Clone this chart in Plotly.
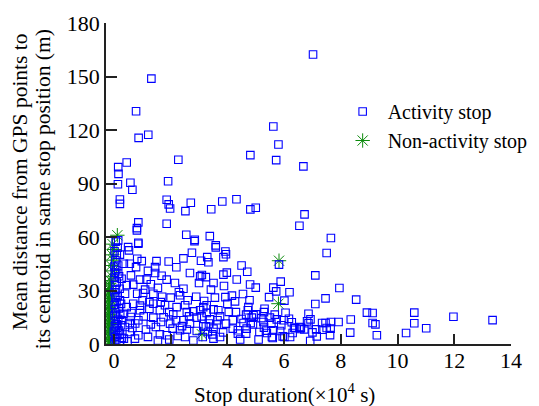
import plotly.graph_objects as go

# Activity stop points (x: duration in 1e4 s, y: mean distance in m)
act_pts = [
    (7.02,162.3),(1.32,148.8),(0.78,130.5),(0.87,115.6),(1.21,117.3),(0.45,101.8),(0.15,99.2),(0.16,95.4),
    (0.14,89.6),(0.58,90.4),(0.65,86.5),(2.27,103.3),(1.91,91.3),(0.21,81),(0.21,78.6),(1.86,80.9),(1.93,78.3),
    (1.98,76),(2.71,79.2),(2.52,74.5),(3.43,75.6),(3.82,79.9),(4.32,81.2),(4.81,75.5),(5.0,76.4),(5.62,122),
    (5.8,111.9),(4.81,105.9),(5.72,103.1),(6.68,99.6),
    (6.72,72.7),(6.54,66.3),(0.86,68.2),(0.81,65),(0.81,63.7),(1.86,67.4),(2.55,61.3),(2.85,58.5),(3.38,60.5),
    (3.59,55.3),(0.86,56.8),(0.15,58.1),(7.65,59.4),(7.5,51),(5.82,44.5),(7.1,38.5),(5.88,35),(5.62,31.6),
    (5.72,29.5),(6.19,29),(5.47,26.3),(7.95,31.4),(7.46,25.6),(8.54,24.9),(7.1,22.4),(6.01,24.3),(5.31,19.8),
    (5.29,17.9),(5.67,16.5),(6.86,17),(8.92,17.6),(9.12,17.4),(10.59,17.6),(11.97,15.3),(13.35,13.4),(5.5,14.8),
    (6.17,14.2),(5.98,13.3),(6.93,13.8),(6.86,11.6),(7.46,11.8),(7.65,12.3),(7.92,12.3),(8.35,13.7),(9.12,11.8),
    (9.22,11),(10.59,11.6),(11.01,8.8),(6.39,8.8),(7.13,8.2),(6.71,8.2),(7.5,9),(7.62,5),(8.33,6.4),(9.27,4.9),
    (10.3,6.2),(6.92,1.7),(7.15,4.3),(6.21,3.9),(6.01,3.9),(5.6,3.4),(5.39,6.2),(5.62,7.7),(5.29,9.2),(5.86,7.3),
    (6.54,9.5),(7.34,11.8),(7.35,8),(7.64,8.6),(6.59,9.2),
    (3.59,54.2),(3.29,48.7),(3.33,45.8),(3.07,46.7),(3.95,50.3),(3.86,48.7),(3.86,38.9),(3.98,40),(3.24,37.5),
    (3.51,34.2),(3.42,30.5),(3.1,38.7),(3.88,32.5),(3.93,26.3),(4.16,27.1),(4.27,23.9),(4.8,33.4),(5.0,31.6),
    (4.78,24.5),(4.74,20.7),(4.3,17.9),(4.92,16.1),(4.86,14.8),(5.01,16.6),(4.57,11.8),(4.82,11.8),(4.19,13.3),
    (4.19,8.6),(4.37,7.7),(5.27,12.3),(5.55,11.4),(5.74,13.8),(6.27,12.2),(6.81,12.7),(4.68,8.6),(4.9,11),
    (5.13,6.7),(5.36,7.5),(5.57,3.9),(5.95,4.3),(6.35,9.2),(6.57,8.4),(4.66,5.8),(4.37,5.8),(3.47,5.4),(3.51,3),
    (3.74,3.9),(3.51,8.6),(3.24,9.9),(3.31,6.7),(3.62,10.9),(3.65,13.3),(3.95,11.4),(3.39,13.8),(3.27,17.4),
    (3.15,20.7),(3.27,21.7),(3.51,19.4),(3.68,18.9),(3.74,15.5),(4.66,16.5),(3.18,24.1),(3.93,51.9),(4.33,36.2),
    (3.56,26),(4.72,18.9),
    (0.06,57.4),(0.13,54),(0.5,54.3),(0.53,52.5),(0.86,56.2),(0.21,50.1),(0.82,47.8),(0.35,45),(0.56,45),
    (0.78,43.1),(0.98,46.5),(1.93,46.3),(1.45,43.1),(1.45,39.8),(1.68,38.3),(1.86,36.1),(2.15,34.2),(2.68,39.8),
    (2.75,51.2),(2.84,57.7),(3.04,37.9),(3.0,34.2),(0.15,39.4),(0.27,36.6),(0.68,33.3),(0.92,36.1),(1.15,36.1),
    (1.03,28.6),(1.39,28.2),(1.65,23.5),(2.29,29),(2.33,27.3),(1.95,17.9),(2.51,21.7),(2.57,17.9),(2.8,18.3),
    (3.04,18.9),(0.92,21.5),(0.68,22.6),(1.25,19.8),(0.62,17.4),(0.86,13.3),(0.56,11.8),(1.13,8.1),(0.74,3),
    (1.39,14.8),(1.66,12.3),(1.98,11.4),(2.19,13.3),(2.45,13.3),(2.68,11.4),(2.57,8.1),(2.33,7.7),(2.07,8.6),
    (1.86,4.9),(1.62,5.4),(1.48,9.5),(2.51,3.9),(2.92,7.3),(3.13,3.9),(3.15,9.9),(2.92,14.8),(3.09,15.5),
    (2.09,16.6),(2.21,20.7),(1.8,21.7),(1.62,18.9),(1.39,22.6),(1.25,23.5),(1.01,24.5),(0.82,28.2),(0.39,28.2),
    (0.21,24.5),(0.45,20.7),(0.33,17),(0.27,13.3),(0.39,9.5),(0.21,5.8),(0.35,3),(0.56,6.7),(0.86,4.9),
    (0.59,15.1),(0.92,18.9),
    (0.02,1.5),(0.08,2.5),(0.2,1),(0.04,4),(0.12,5),(0.28,3.5),(0.0,7),(0.06,8),(0.18,7.5),(0.03,10),
    (0.1,11),(0.25,10.5),(0.06,13),(0.15,14),(0.02,16),(0.08,17),(0.22,16.5),(0.04,19.5),(0.17,20),(0.03,22),
    (0.09,23.5),(0.25,22.5),(0.05,26),(0.13,27),(0.02,29),(0.07,30.5),(0.2,31),(0.04,33),(0.1,34.5),(0.03,37),
    (0.18,38),(0.03,40),(0.08,41.5),(0.02,43.5),(0.15,44),(0.05,47),(0.1,50),(0.02,52),
    (0.48,1.5),(0.65,9),(0.75,11.5),(1.05,15.5),(1.2,4),(1.3,11),(1.55,2),(1.75,15),(1.95,2.5),(2.25,4.5),
    (2.4,10),(2.65,15.5),(2.8,2),(3.35,11.5),(3.85,6.5),(4.05,18),(4.5,14),(4.45,2.5),(5.1,2.5),(5.2,14.5),
    (5.9,10.5),(6.05,17.5),(6.3,6.2),(7.0,6.5),(1.1,30.5),(1.55,31.5),(2.0,26),(2.45,31),(2.9,26.5),(1.3,33.5),
    (0.45,33),(0.6,38.5),(1.7,26.5),(2.6,24.5),(4.0,22.5),(4.55,28),(1.5,46.5),(2.2,43),(2.45,48),(1.2,41),
    (4.5,44),(4.7,40.5),
]
act_x = [p[0] for p in act_pts]
act_y = [p[1] for p in act_pts]

# Non-activity stop points
non_pts = [
    (-0.19,0.5),(-0.16,1.5),(-0.2,2.5),(-0.15,3.5),(-0.19,4.5),(-0.16,5.5),(-0.2,6.5),(-0.15,7.5),
    (-0.19,8.5),(-0.16,9.5),(-0.2,10.5),(-0.15,11.5),(-0.19,12.5),(-0.16,13.5),(-0.2,14.5),(-0.15,15.5),
    (-0.19,16.5),(-0.16,17.5),(-0.2,18.5),(-0.15,19.5),(-0.19,20.5),(-0.16,21.5),(-0.2,22.5),(-0.15,23.5),
    (-0.19,24.5),(-0.16,25.5),(-0.2,26.5),(-0.15,27.5),(-0.19,28.5),(-0.16,29.5),(-0.18,31),(-0.14,32.5),
    (-0.17,34),(-0.12,35.5),
    (-0.08,38),(-0.03,41),(-0.1,44),(-0.02,47),(-0.07,50),(0.0,53),(-0.05,56),(0.12,61),
    (5.82,46.7),(5.8,22.6),(3.1,5.5),
]
non_x = [p[0] for p in non_pts]
non_y = [p[1] for p in non_pts]

x_ticks = [0, 2, 4, 6, 8, 10, 12, 14]
y_ticks = [0, 30, 60, 90, 120, 150, 180]
x_title = "Stop duration(×10<sup>4</sup> s)"
y_title_lines = ["Mean distance from GPS points to", "its centroid in same stop position (m)"]

FONT = "Liberation Serif, Times New Roman, serif"
GREEN = "#0b8a0b"
BLUE = "#0000ff"

fig = go.Figure()
fig.add_trace(go.Scatter(
    x=non_x, y=non_y, mode="markers", name="Non-activity stop",
    marker=dict(symbol="asterisk-open", size=12, color=GREEN,
                line=dict(color=GREEN, width=1)),
    showlegend=False,
))
fig.add_trace(go.Scatter(
    x=act_x, y=act_y, mode="markers", name="Activity stop",
    marker=dict(symbol="square-open", size=7.5, color=BLUE,
                line=dict(color=BLUE, width=1.1)),
))
fig.add_trace(go.Scatter(
    x=[None], y=[None], mode="markers", name="Non-activity stop",
    marker=dict(symbol="asterisk-open", size=12, color=GREEN,
                line=dict(color=GREEN, width=1)),
))

# The page body has an 8px default margin, so the figure is 8px smaller each way
fig.update_layout(
    width=531, height=398,
    margin=dict(l=98, r=28, t=15, b=62, autoexpand=False),
    paper_bgcolor="white", plot_bgcolor="white",
    font=dict(family=FONT, size=20, color="black"),
    legend=dict(x=0.572, y=0.785, xanchor="left", yanchor="top", itemwidth=40,
                bgcolor="rgba(0,0,0,0)", font=dict(size=20), tracegroupgap=0),
    xaxis=dict(range=[-0.28, 14], tickvals=x_ticks, ticks="inside", ticklen=10,
               tickcolor="#222", tickwidth=1.5, showline=True, linecolor="#222", linewidth=1.5,
               showgrid=False, zeroline=False, mirror=False, automargin=False,
               tickfont=dict(size=22), ticklabelstandoff=-4),
    yaxis=dict(range=[0, 180], tickvals=y_ticks, ticks="inside", ticklen=11,
               tickcolor="#222", tickwidth=1.5, showline=True, linecolor="#222", linewidth=1.5,
               showgrid=False, zeroline=False, mirror=False, automargin=False,
               tickfont=dict(size=22), ticklabelstandoff=0),
    annotations=[
        dict(text=x_title, xref="paper", yref="paper", x=0.44, y=-0.154,
             xanchor="center", yanchor="middle", showarrow=False, font=dict(size=21)),
        dict(text=y_title_lines[0], xref="paper", yref="paper", x=-0.2123, y=0.504,
             xanchor="center", yanchor="middle", textangle=-90, showarrow=False, font=dict(size=21.5)),
        dict(text=y_title_lines[1], xref="paper", yref="paper", x=-0.1556, y=0.482,
             xanchor="center", yanchor="middle", textangle=-90, showarrow=False, font=dict(size=21.5)),
    ],
)

fig.write_html("out.html")
